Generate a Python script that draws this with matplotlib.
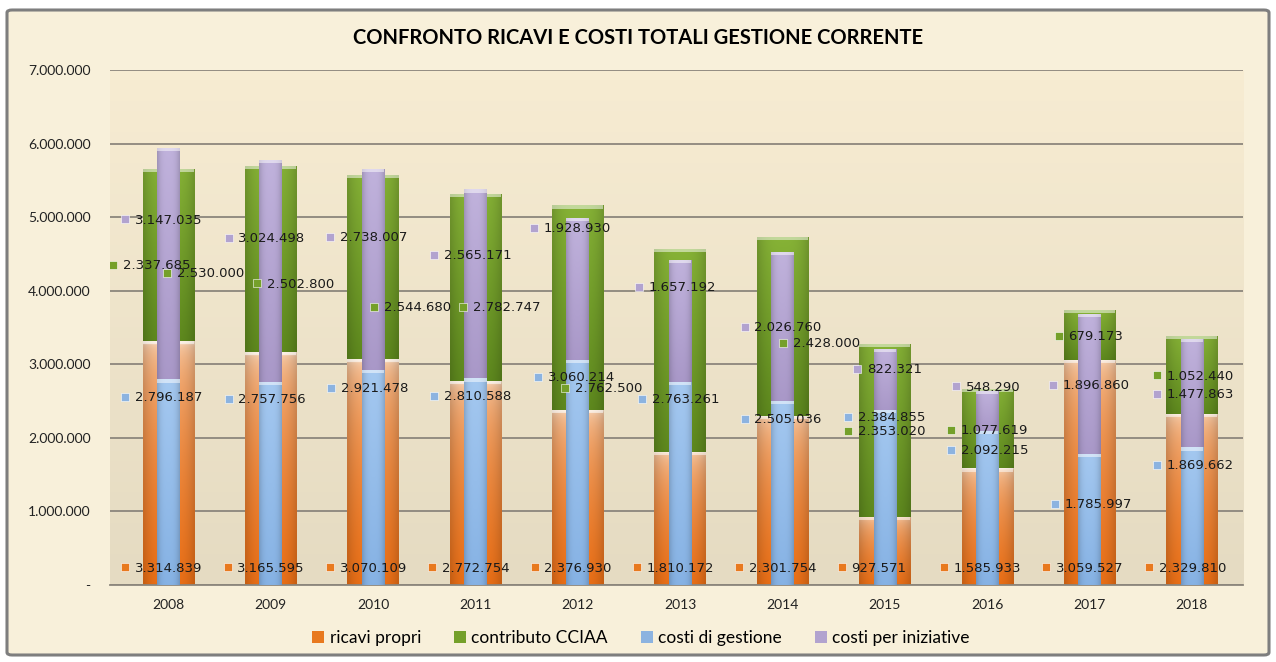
import numpy as np
import matplotlib
matplotlib.use("Agg")
import matplotlib.pyplot as plt
from matplotlib.colors import to_rgb
from matplotlib.patches import FancyBboxPatch, Patch

anni = ['2008', '2009', '2010', '2011', '2012', '2013', '2014', '2015', '2016', '2017', '2018']
ricavi_propri = [3314839, 3165595, 3070109, 2772754, 2376930, 1810172, 2301754, 927571, 1585933, 3059527, 2329810]
contributo_cciaa = [2337685, 2530000, 2502800, 2544680, 2782747, 2762500, 2428000, 2353020, 1077619, 679173, 1052440]
costi_gestione = [2796187, 2757756, 2921478, 2810588, 3060214, 2763261, 2505036, 2384855, 2092215, 1785997, 1869662]
costi_iniziative = [3147035, 3024498, 2738007, 2565171, 1928930, 1657192, 2026760, 822321, 548290, 1896860, 1477863]

# where Excel left the data labels (y in euro, x shift in categories)
lab_y_ricavi = [240000] * 11
lab_dx_ricavi = [-0.42] * 11
lab_y_contrib = [4350000, 4240000, 4100000, 3780000, 3780000, 2680000, 3290000, 2100000, 2110000, 3390000, 2850000]
lab_dx_contrib = [-0.54, -1.01, -1.13, -0.99, -1.12, -1.12, 0.01, -0.36, -0.35, -0.30, -0.34]
lab_y_gest = [2560000, 2530000, 2680000, 2570000, 2830000, 2530000, 2260000, 2290000, 1840000, 1100000, 1630000]
lab_dx_gest = [-0.42, -0.41, -0.41, -0.40, -0.39, -0.37, -0.37, -0.36, -0.35, -0.34, -0.34]
lab_y_iniz = [4970000, 4720000, 4730000, 4490000, 4850000, 4050000, 3510000, 2940000, 2700000, 2720000, 2600000]
lab_dx_iniz = [-0.42, -0.41, -0.42, -0.40, -0.43, -0.40, -0.37, -0.27, -0.30, -0.36, -0.34]

# (top colour, bottom colour, gamma of the vertical blend)
col_ricavi = ('#fde6d0', '#ec7016', 0.35)
col_contrib = ('#86b236', '#5f8a1e', 1.0)
col_gest = ('#a4c8f0', '#86b2e4', 1.0)
col_iniz = ('#c0b2dc', '#a998c8', 1.0)


def fmt(v):
    return f"{v:,}".replace(',', '.')


def grad_bar(ax, x, bottom, height, width, cols, z):
    c_top, c_bot, gam = cols
    b = ax.bar(x, height, width, bottom=bottom, color='none', edgecolor='none', zorder=z)[0]
    t = np.array(to_rgb(c_top))
    d = np.array(to_rgb(c_bot))
    f = np.linspace(0, 1, 80)[:, None] ** gam
    col = t * (1 - f) + d * f
    # cylinder shading left-right
    h = np.linspace(-1, 1, 30)
    shade = 1 - 0.16 * np.abs(h) ** 3
    img = np.clip(col[:, None, :] * shade[None, :, None], 0, 1)
    im = ax.imshow(img, extent=[x - width / 2, x + width / 2, bottom, bottom + height],
                   origin='upper', aspect='auto', zorder=z, interpolation='bilinear')
    im.set_clip_path(b)
    # light cap on top of the segment
    ax.bar(x, 45000, width, bottom=bottom + height - 45000,
           color='white', alpha=0.5, edgecolor='none', zorder=z + 0.1)


fig = plt.figure(figsize=(12.76, 6.62), dpi=100)
fig.patch.set_facecolor('white')

bg = FancyBboxPatch((7 / 1276, 7 / 662), 1262 / 1276, 645 / 662,
                    boxstyle='round,pad=0,rounding_size=0.004', transform=fig.transFigure,
                    facecolor='#f8f0da', edgecolor='#7e7e7e', linewidth=2.2, zorder=-10)
fig.patches.append(bg)

ax = fig.add_axes([110 / 1276, 1 - 585 / 662, (1243 - 110) / 1276, (585 - 70) / 662])
ax.set_facecolor('none')

# plot area gradient
pa = np.linspace(0, 1, 50)[:, None]
top_c = np.array(to_rgb('#f7ecd2'))
bot_c = np.array(to_rgb('#e5dbc2'))
pa_img = top_c * (1 - pa[:, :, None]) + bot_c * pa[:, :, None]
ax.imshow(pa_img, extent=[-0.57, 10.5, 0, 7000000], aspect='auto', origin='upper', zorder=0)

x = np.arange(len(anni))
w_big = 0.5
w_small = 0.22
for i in x:
    grad_bar(ax, i, 0, ricavi_propri[i], w_big, col_ricavi, 2)
    grad_bar(ax, i, ricavi_propri[i], contributo_cciaa[i], w_big, col_contrib, 2)
    grad_bar(ax, i, 0, costi_gestione[i], w_small, col_gest, 3)
    grad_bar(ax, i, costi_gestione[i], costi_iniziative[i], w_small, col_iniz, 3)

ax.set_xlim(-0.57, 10.5)
ax.set_ylim(0, 7000000)

ax.set_yticks(np.arange(0, 7000001, 1000000))
ax.set_yticklabels(['-'] + [fmt(v) for v in range(1000000, 7000001, 1000000)])
ax.yaxis.grid(True, color='#8c867c', linewidth=1.3)
ax.set_axisbelow(True)
for g in ax.get_ygridlines():
    g.set_zorder(1)
ax.set_xticks(x)
ax.set_xticklabels(anni)
ax.tick_params(length=0, labelsize=10, colors='#222222')
ax.tick_params(axis='y', pad=14)
ax.tick_params(axis='x', pad=10)
for lbl in ax.get_xticklabels() + ax.get_yticklabels():
    lbl.set_fontfamily('Lato')
for s in ['top', 'right', 'left']:
    ax.spines[s].set_visible(False)
ax.spines['bottom'].set_color('#8c867c')
ax.spines['bottom'].set_linewidth(1.3)

series_lab = [
    (ricavi_propri, lab_y_ricavi, lab_dx_ricavi, '#e8791e'),
    (contributo_cciaa, lab_y_contrib, lab_dx_contrib, '#75a02a'),
    (costi_gestione, lab_y_gest, lab_dx_gest, '#8cb3e0'),
    (costi_iniziative, lab_y_iniz, lab_dx_iniz, '#b2a3cf'),
]
for vals, ys, dxs, c in series_lab:
    for i in x:
        xx = i + dxs[i]
        ax.plot(xx, ys[i], marker='s', markersize=5.5, color=c,
                markeredgecolor='white', markeredgewidth=0.4, zorder=6)
        ax.annotate(fmt(vals[i]), (xx, ys[i]), xytext=(7, -0.5), textcoords='offset points',
                    va='center', ha='left', fontsize=9.5, color='#1a1a1a',
                    family='DejaVu Sans', zorder=7)

fig.text(0.5, 1 - 38 / 662, 'CONFRONTO RICAVI E COSTI TOTALI GESTIONE CORRENTE',
         ha='center', va='center', fontsize=14.5, fontweight='bold', family='Lato')

handles = [
    Patch(facecolor='#e8791e', edgecolor='none'),
    Patch(facecolor='#75a02a', edgecolor='none'),
    Patch(facecolor='#8cb3e0', edgecolor='none'),
    Patch(facecolor='#b2a3cf', edgecolor='none'),
]
names = ['ricavi propri', 'contributo CCIAA', 'costi di gestione', 'costi per iniziative']
fig.legend(handles, names, loc='center', bbox_to_anchor=(641 / 1276, 1 - 638 / 662),
           ncol=4, frameon=False, handlelength=0.7, handleheight=0.7,
           handletextpad=0.3, columnspacing=1.9, prop={'family': 'Lato', 'size': 12.5})

fig.savefig('out.png', dpi=100, facecolor=fig.get_facecolor())
